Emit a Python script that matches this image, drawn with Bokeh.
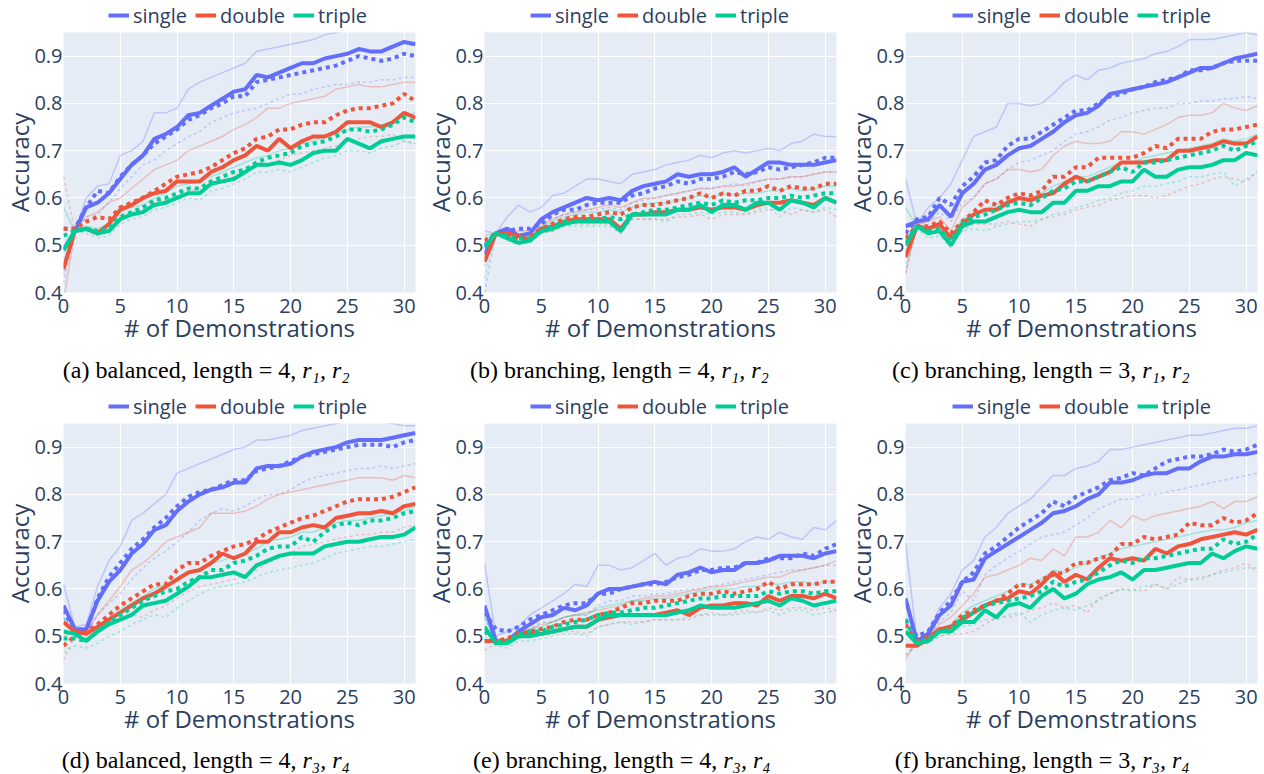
import math
from bokeh.plotting import figure
from bokeh.layouts import column, row
from bokeh.models import Legend, LegendItem, Label, FixedTicker, NumeralTickFormatter, Range1d
from bokeh.embed import file_html
from bokeh.resources import INLINE

X = list(range(32))
SERIES = ["single", "double", "triple"]
COLORS = ["#636EFA", "#EF553B", "#00CC96"]
X_TICKS = [0, 5, 10, 15, 20, 25, 30]
Y_TICKS = [0.4, 0.5, 0.6, 0.7, 0.8, 0.9]
Y_TITLE = "Accuracy"
X_TITLE = "# of Demonstrations"
CAPTIONS = ["(a) balanced, length = 4,", "(b) branching, length = 4,", "(c) branching, length = 3,",
            "(d) balanced, length = 4,", "(e) branching, length = 4,", "(f) branching, length = 3,"]
CAPTION_MATH = ["r\u2081, r\u2082", "r\u2081, r\u2082", "r\u2081, r\u2082",
                "r\u2083, r\u2084", "r\u2083, r\u2084", "r\u2083, r\u2084"]

# ---- panel (a)
A_S = [0.49,0.53,0.58,0.59,0.61,0.64,0.67,0.69,0.725,0.735,0.75,0.775,0.78,0.795,0.81,0.825,0.83,0.86,0.855,0.865,0.875,0.885,0.885,0.895,0.90,0.905,0.915,0.91,0.91,0.92,0.93,0.925]
A_S_DOT = [0.535,0.535,0.58,0.615,0.61,0.645,0.67,0.69,0.715,0.73,0.745,0.765,0.775,0.79,0.80,0.815,0.815,0.845,0.85,0.855,0.86,0.865,0.87,0.875,0.88,0.89,0.90,0.895,0.89,0.895,0.905,0.90]
A_S_HI = [0.44,0.53,0.60,0.625,0.63,0.69,0.70,0.72,0.78,0.78,0.79,0.83,0.845,0.855,0.865,0.875,0.885,0.91,0.915,0.92,0.925,0.93,0.935,0.945,0.95,0.955,0.96,0.96,0.96,0.96,0.96,0.96]
A_S_LO = [0.42,0.53,0.56,0.565,0.59,0.62,0.645,0.67,0.68,0.70,0.715,0.73,0.74,0.76,0.77,0.78,0.785,0.79,0.80,0.81,0.82,0.82,0.83,0.835,0.84,0.84,0.845,0.845,0.85,0.85,0.855,0.855]
A_D = [0.45,0.53,0.535,0.525,0.545,0.575,0.585,0.60,0.61,0.615,0.635,0.635,0.635,0.655,0.665,0.68,0.69,0.71,0.70,0.725,0.705,0.72,0.73,0.73,0.74,0.76,0.76,0.76,0.75,0.76,0.78,0.77]
A_D_DOT = [0.535,0.535,0.55,0.56,0.555,0.58,0.59,0.60,0.615,0.63,0.645,0.65,0.655,0.665,0.68,0.695,0.705,0.725,0.73,0.745,0.745,0.755,0.76,0.76,0.775,0.785,0.79,0.79,0.795,0.80,0.82,0.805]
A_D_HI = [0.38,0.53,0.56,0.57,0.59,0.60,0.62,0.64,0.66,0.67,0.68,0.70,0.71,0.72,0.73,0.745,0.755,0.77,0.79,0.79,0.80,0.805,0.81,0.815,0.83,0.835,0.84,0.835,0.835,0.84,0.845,0.845]
A_D_LO = [0.645,0.53,0.53,0.52,0.54,0.56,0.57,0.575,0.59,0.595,0.605,0.615,0.62,0.625,0.635,0.645,0.655,0.665,0.67,0.68,0.69,0.695,0.70,0.705,0.71,0.72,0.725,0.73,0.73,0.735,0.72,0.715]
A_T = [0.49,0.53,0.535,0.525,0.53,0.555,0.565,0.57,0.585,0.59,0.60,0.61,0.61,0.63,0.635,0.64,0.655,0.67,0.67,0.675,0.67,0.68,0.695,0.70,0.70,0.725,0.715,0.705,0.72,0.725,0.73,0.73]
A_T_DOT = [0.52,0.53,0.535,0.53,0.535,0.56,0.57,0.58,0.595,0.60,0.61,0.62,0.62,0.635,0.645,0.655,0.66,0.675,0.685,0.69,0.695,0.71,0.715,0.72,0.73,0.745,0.745,0.74,0.745,0.755,0.77,0.76]
A_T_HI = [0.58,0.53,0.54,0.535,0.545,0.57,0.58,0.585,0.60,0.61,0.625,0.63,0.635,0.645,0.655,0.665,0.675,0.685,0.69,0.70,0.705,0.715,0.72,0.73,0.735,0.745,0.75,0.75,0.755,0.76,0.775,0.78]
A_T_LO = [0.47,0.53,0.525,0.515,0.52,0.545,0.555,0.56,0.575,0.58,0.59,0.60,0.595,0.615,0.62,0.63,0.64,0.655,0.655,0.66,0.655,0.665,0.675,0.685,0.69,0.70,0.70,0.695,0.705,0.71,0.72,0.715]

# ---- panel (b)
B_S = [0.48,0.525,0.535,0.52,0.525,0.555,0.57,0.58,0.59,0.60,0.595,0.60,0.595,0.615,0.625,0.63,0.635,0.65,0.645,0.65,0.65,0.655,0.665,0.645,0.66,0.675,0.675,0.67,0.67,0.67,0.675,0.68]
B_S_DOT = [0.50,0.525,0.53,0.535,0.535,0.545,0.565,0.575,0.575,0.585,0.59,0.59,0.59,0.605,0.61,0.62,0.625,0.635,0.63,0.64,0.64,0.645,0.655,0.65,0.655,0.665,0.66,0.665,0.67,0.675,0.685,0.685]
B_S_HI = [0.53,0.525,0.56,0.585,0.57,0.58,0.605,0.61,0.625,0.64,0.64,0.635,0.63,0.65,0.655,0.66,0.67,0.675,0.68,0.69,0.685,0.695,0.70,0.695,0.70,0.705,0.70,0.715,0.72,0.735,0.73,0.73]
B_S_LO = [0.40,0.525,0.53,0.52,0.52,0.54,0.555,0.565,0.57,0.575,0.575,0.58,0.575,0.59,0.595,0.60,0.605,0.61,0.615,0.62,0.62,0.625,0.63,0.625,0.635,0.64,0.64,0.645,0.645,0.65,0.655,0.655]
B_D = [0.465,0.525,0.525,0.52,0.51,0.535,0.54,0.55,0.555,0.555,0.555,0.555,0.535,0.565,0.565,0.57,0.57,0.575,0.575,0.58,0.575,0.58,0.58,0.575,0.585,0.59,0.59,0.595,0.59,0.585,0.60,0.59]
B_D_DOT = [0.51,0.525,0.52,0.515,0.52,0.535,0.545,0.555,0.56,0.56,0.565,0.57,0.565,0.58,0.585,0.585,0.59,0.595,0.60,0.61,0.60,0.61,0.605,0.615,0.615,0.625,0.615,0.625,0.62,0.62,0.63,0.63]
B_D_HI = [0.48,0.525,0.53,0.53,0.53,0.545,0.555,0.565,0.57,0.575,0.58,0.585,0.58,0.59,0.60,0.60,0.605,0.61,0.615,0.62,0.62,0.625,0.625,0.63,0.635,0.64,0.64,0.645,0.645,0.65,0.655,0.655]
B_D_LO = [0.455,0.525,0.515,0.51,0.505,0.525,0.53,0.54,0.545,0.545,0.545,0.545,0.525,0.555,0.555,0.555,0.555,0.56,0.56,0.565,0.555,0.565,0.565,0.565,0.57,0.575,0.575,0.565,0.575,0.57,0.575,0.56]
B_T = [0.495,0.525,0.515,0.505,0.51,0.53,0.535,0.545,0.55,0.55,0.55,0.55,0.53,0.565,0.565,0.565,0.565,0.575,0.575,0.585,0.57,0.585,0.585,0.575,0.59,0.59,0.575,0.595,0.59,0.58,0.60,0.59]
B_T_DOT = [0.50,0.525,0.52,0.515,0.515,0.53,0.54,0.55,0.55,0.555,0.555,0.56,0.555,0.565,0.57,0.575,0.575,0.58,0.585,0.59,0.585,0.595,0.59,0.595,0.595,0.60,0.60,0.605,0.60,0.605,0.61,0.61]
B_T_HI = [0.52,0.525,0.525,0.52,0.52,0.54,0.55,0.56,0.565,0.57,0.57,0.575,0.57,0.58,0.585,0.59,0.59,0.595,0.60,0.605,0.60,0.61,0.605,0.61,0.61,0.615,0.615,0.62,0.615,0.62,0.625,0.625]
B_T_LO = [0.43,0.525,0.51,0.50,0.505,0.525,0.53,0.54,0.54,0.54,0.54,0.54,0.525,0.555,0.555,0.555,0.55,0.565,0.565,0.57,0.565,0.57,0.57,0.565,0.575,0.58,0.56,0.58,0.575,0.57,0.58,0.575]

# ---- panel (c)
C_S = [0.54,0.55,0.555,0.585,0.56,0.61,0.63,0.66,0.67,0.69,0.705,0.71,0.725,0.74,0.76,0.775,0.78,0.795,0.82,0.825,0.83,0.835,0.84,0.845,0.855,0.865,0.875,0.875,0.885,0.895,0.90,0.905]
C_S_DOT = [0.525,0.555,0.56,0.60,0.585,0.625,0.645,0.675,0.68,0.71,0.725,0.725,0.74,0.755,0.77,0.785,0.785,0.80,0.815,0.82,0.83,0.835,0.845,0.85,0.855,0.87,0.87,0.875,0.885,0.89,0.89,0.89]
C_S_HI = [0.64,0.545,0.58,0.60,0.63,0.68,0.73,0.74,0.75,0.80,0.80,0.795,0.80,0.82,0.845,0.86,0.85,0.87,0.875,0.885,0.89,0.895,0.905,0.91,0.92,0.935,0.935,0.935,0.94,0.945,0.95,0.945]
C_S_LO = [0.44,0.54,0.55,0.57,0.55,0.59,0.60,0.63,0.64,0.66,0.675,0.68,0.69,0.70,0.72,0.735,0.74,0.75,0.765,0.77,0.78,0.785,0.79,0.79,0.80,0.80,0.805,0.805,0.81,0.81,0.815,0.81]
C_D = [0.475,0.54,0.535,0.545,0.515,0.545,0.565,0.575,0.575,0.59,0.60,0.595,0.605,0.61,0.63,0.645,0.635,0.645,0.655,0.675,0.675,0.675,0.68,0.68,0.70,0.70,0.705,0.71,0.72,0.715,0.715,0.73]
C_D_DOT = [0.515,0.54,0.54,0.55,0.525,0.55,0.57,0.595,0.585,0.60,0.61,0.605,0.615,0.645,0.645,0.665,0.665,0.685,0.685,0.685,0.685,0.695,0.71,0.705,0.725,0.725,0.725,0.74,0.745,0.745,0.75,0.755]
C_D_HI = [0.44,0.545,0.55,0.56,0.53,0.58,0.60,0.63,0.64,0.66,0.66,0.655,0.66,0.69,0.71,0.72,0.715,0.715,0.72,0.74,0.74,0.735,0.745,0.755,0.77,0.775,0.775,0.78,0.80,0.79,0.785,0.795]
C_D_LO = [0.48,0.54,0.53,0.54,0.505,0.53,0.545,0.545,0.545,0.55,0.545,0.54,0.555,0.56,0.565,0.575,0.58,0.585,0.595,0.60,0.605,0.605,0.60,0.605,0.615,0.625,0.63,0.64,0.645,0.64,0.635,0.655]
C_T = [0.50,0.54,0.525,0.53,0.50,0.54,0.55,0.55,0.56,0.57,0.575,0.57,0.57,0.59,0.59,0.615,0.615,0.625,0.625,0.635,0.635,0.66,0.645,0.645,0.66,0.665,0.665,0.67,0.68,0.68,0.695,0.69]
C_T_DOT = [0.505,0.54,0.53,0.535,0.51,0.545,0.56,0.565,0.575,0.585,0.59,0.585,0.60,0.615,0.62,0.635,0.635,0.645,0.655,0.665,0.655,0.675,0.675,0.68,0.685,0.69,0.695,0.70,0.71,0.70,0.71,0.72]
C_T_HI = [0.58,0.54,0.535,0.54,0.52,0.555,0.565,0.575,0.585,0.595,0.60,0.60,0.61,0.625,0.635,0.645,0.645,0.655,0.665,0.675,0.675,0.685,0.69,0.695,0.70,0.705,0.71,0.715,0.725,0.72,0.725,0.735]
C_T_LO = [0.46,0.535,0.515,0.52,0.495,0.53,0.535,0.53,0.54,0.545,0.55,0.55,0.555,0.565,0.57,0.58,0.585,0.595,0.60,0.61,0.615,0.625,0.625,0.63,0.635,0.645,0.645,0.65,0.655,0.625,0.64,0.655]

# ---- panel (d)
D_S = [0.565,0.515,0.515,0.575,0.615,0.64,0.675,0.695,0.725,0.735,0.765,0.785,0.80,0.81,0.815,0.825,0.825,0.855,0.86,0.86,0.865,0.88,0.89,0.895,0.90,0.91,0.915,0.915,0.915,0.92,0.925,0.93]
D_S_DOT = [0.555,0.51,0.51,0.58,0.625,0.655,0.685,0.705,0.73,0.75,0.775,0.795,0.805,0.81,0.82,0.83,0.83,0.85,0.855,0.86,0.87,0.88,0.885,0.89,0.895,0.90,0.905,0.905,0.905,0.90,0.91,0.915]
D_S_HI = [0.61,0.52,0.525,0.605,0.66,0.69,0.745,0.76,0.78,0.80,0.845,0.855,0.865,0.875,0.885,0.895,0.90,0.915,0.915,0.92,0.925,0.935,0.94,0.945,0.95,0.955,0.955,0.955,0.955,0.95,0.945,0.945]
D_S_LO = [0.54,0.505,0.505,0.545,0.57,0.59,0.62,0.645,0.665,0.68,0.70,0.72,0.745,0.76,0.77,0.765,0.775,0.79,0.80,0.80,0.81,0.825,0.835,0.84,0.845,0.85,0.855,0.855,0.86,0.855,0.86,0.865]
D_D = [0.53,0.51,0.505,0.52,0.535,0.55,0.565,0.58,0.59,0.605,0.62,0.635,0.64,0.655,0.675,0.665,0.675,0.70,0.70,0.72,0.72,0.73,0.735,0.73,0.75,0.755,0.76,0.76,0.765,0.76,0.775,0.78]
D_D_DOT = [0.48,0.50,0.51,0.525,0.545,0.565,0.58,0.595,0.61,0.61,0.64,0.655,0.655,0.67,0.68,0.69,0.695,0.705,0.72,0.73,0.74,0.75,0.755,0.765,0.775,0.785,0.79,0.79,0.79,0.795,0.805,0.815]
D_D_HI = [0.50,0.51,0.51,0.545,0.575,0.605,0.64,0.655,0.675,0.70,0.71,0.72,0.73,0.76,0.76,0.76,0.765,0.775,0.79,0.80,0.805,0.81,0.815,0.82,0.825,0.83,0.835,0.835,0.835,0.83,0.84,0.835]
D_D_LO = [0.45,0.50,0.50,0.51,0.525,0.535,0.545,0.54,0.555,0.565,0.58,0.595,0.605,0.61,0.615,0.62,0.63,0.64,0.655,0.665,0.675,0.69,0.695,0.70,0.705,0.71,0.715,0.715,0.72,0.72,0.73,0.735]
D_T = [0.51,0.505,0.49,0.51,0.525,0.535,0.545,0.565,0.57,0.575,0.59,0.605,0.625,0.625,0.63,0.635,0.625,0.65,0.66,0.67,0.675,0.675,0.675,0.69,0.695,0.70,0.70,0.705,0.71,0.71,0.715,0.73]
D_T_DOT = [0.495,0.495,0.49,0.51,0.53,0.545,0.56,0.575,0.585,0.595,0.60,0.615,0.625,0.64,0.64,0.655,0.66,0.67,0.685,0.69,0.69,0.71,0.70,0.72,0.735,0.74,0.735,0.745,0.745,0.75,0.76,0.765]
D_T_HI = [0.54,0.50,0.495,0.52,0.54,0.555,0.57,0.585,0.60,0.61,0.62,0.63,0.64,0.655,0.66,0.67,0.675,0.685,0.70,0.705,0.71,0.72,0.72,0.73,0.74,0.745,0.745,0.75,0.755,0.76,0.765,0.775]
D_T_LO = [0.465,0.48,0.475,0.485,0.50,0.51,0.525,0.535,0.545,0.54,0.56,0.575,0.59,0.60,0.605,0.61,0.615,0.625,0.635,0.64,0.645,0.65,0.655,0.665,0.675,0.68,0.685,0.69,0.69,0.695,0.70,0.705]

# ---- panel (e)
E_S = [0.565,0.49,0.49,0.51,0.525,0.54,0.545,0.56,0.555,0.565,0.59,0.60,0.60,0.605,0.61,0.615,0.61,0.63,0.635,0.645,0.635,0.64,0.64,0.655,0.655,0.66,0.67,0.67,0.67,0.665,0.675,0.68]
E_S_DOT = [0.55,0.515,0.51,0.52,0.535,0.545,0.555,0.565,0.57,0.57,0.59,0.59,0.60,0.605,0.61,0.61,0.615,0.625,0.63,0.64,0.64,0.645,0.645,0.655,0.655,0.665,0.665,0.665,0.675,0.67,0.685,0.695]
E_S_HI = [0.655,0.50,0.51,0.52,0.545,0.56,0.575,0.59,0.61,0.605,0.65,0.65,0.64,0.645,0.66,0.675,0.65,0.665,0.67,0.685,0.68,0.68,0.685,0.70,0.71,0.705,0.72,0.71,0.705,0.73,0.725,0.745]
E_S_LO = [0.54,0.49,0.49,0.50,0.515,0.53,0.53,0.54,0.545,0.545,0.565,0.575,0.575,0.585,0.585,0.59,0.59,0.595,0.60,0.60,0.605,0.61,0.615,0.62,0.625,0.63,0.635,0.64,0.64,0.645,0.65,0.65]
E_D = [0.49,0.49,0.49,0.505,0.505,0.505,0.51,0.515,0.52,0.52,0.535,0.54,0.545,0.545,0.545,0.545,0.55,0.555,0.545,0.56,0.565,0.565,0.57,0.57,0.565,0.585,0.575,0.585,0.585,0.58,0.59,0.58]
E_D_DOT = [0.49,0.49,0.495,0.505,0.51,0.515,0.52,0.53,0.535,0.535,0.545,0.55,0.56,0.57,0.57,0.575,0.575,0.575,0.585,0.59,0.59,0.595,0.59,0.595,0.60,0.615,0.60,0.61,0.61,0.61,0.615,0.615]
E_D_HI = [0.485,0.49,0.495,0.51,0.515,0.525,0.53,0.54,0.545,0.55,0.555,0.56,0.565,0.575,0.58,0.585,0.585,0.59,0.595,0.60,0.605,0.605,0.61,0.615,0.62,0.625,0.625,0.635,0.64,0.645,0.65,0.66]
E_D_LO = [0.47,0.485,0.485,0.495,0.50,0.50,0.505,0.51,0.51,0.505,0.52,0.525,0.53,0.53,0.53,0.535,0.535,0.535,0.535,0.545,0.55,0.545,0.55,0.555,0.55,0.56,0.555,0.56,0.56,0.555,0.56,0.555]
E_T = [0.52,0.485,0.485,0.50,0.50,0.505,0.51,0.515,0.52,0.52,0.535,0.545,0.545,0.545,0.545,0.545,0.545,0.55,0.555,0.565,0.56,0.56,0.56,0.565,0.57,0.575,0.565,0.58,0.575,0.565,0.57,0.575]
E_T_DOT = [0.51,0.49,0.49,0.505,0.51,0.51,0.52,0.525,0.53,0.535,0.545,0.55,0.55,0.555,0.56,0.56,0.565,0.57,0.575,0.58,0.58,0.585,0.585,0.585,0.585,0.595,0.59,0.595,0.595,0.59,0.595,0.595]
E_T_HI = [0.54,0.49,0.49,0.505,0.515,0.52,0.53,0.54,0.545,0.545,0.56,0.565,0.57,0.575,0.575,0.58,0.58,0.585,0.59,0.595,0.60,0.60,0.60,0.605,0.605,0.61,0.61,0.615,0.615,0.61,0.615,0.615]
E_T_LO = [0.50,0.48,0.475,0.49,0.49,0.495,0.50,0.505,0.505,0.50,0.52,0.525,0.53,0.525,0.53,0.535,0.535,0.535,0.54,0.545,0.545,0.545,0.545,0.55,0.55,0.555,0.545,0.555,0.555,0.545,0.55,0.555]

# ---- panel (f)
F_S = [0.58,0.49,0.505,0.545,0.565,0.615,0.62,0.665,0.68,0.695,0.71,0.725,0.74,0.76,0.765,0.775,0.79,0.80,0.825,0.825,0.83,0.84,0.845,0.845,0.855,0.855,0.87,0.88,0.88,0.885,0.885,0.89]
F_S_DOT = [0.535,0.50,0.51,0.55,0.575,0.615,0.635,0.675,0.69,0.71,0.73,0.745,0.76,0.785,0.775,0.795,0.805,0.815,0.83,0.835,0.845,0.84,0.855,0.87,0.875,0.88,0.88,0.885,0.895,0.89,0.895,0.905]
F_S_HI = [0.70,0.49,0.51,0.56,0.59,0.64,0.66,0.71,0.73,0.76,0.775,0.79,0.815,0.84,0.84,0.855,0.86,0.87,0.895,0.895,0.90,0.905,0.91,0.915,0.92,0.925,0.925,0.93,0.935,0.94,0.94,0.945]
F_S_LO = [0.54,0.49,0.50,0.53,0.55,0.595,0.575,0.63,0.65,0.665,0.68,0.695,0.71,0.715,0.72,0.735,0.75,0.77,0.78,0.79,0.79,0.80,0.80,0.805,0.81,0.815,0.82,0.825,0.83,0.835,0.84,0.845]
F_D = [0.48,0.48,0.495,0.515,0.52,0.535,0.55,0.565,0.575,0.58,0.595,0.59,0.61,0.635,0.615,0.63,0.62,0.645,0.665,0.66,0.665,0.66,0.685,0.675,0.69,0.695,0.705,0.71,0.715,0.72,0.715,0.725]
F_D_DOT = [0.525,0.485,0.50,0.51,0.52,0.545,0.555,0.565,0.575,0.59,0.61,0.605,0.62,0.63,0.635,0.655,0.655,0.665,0.67,0.695,0.695,0.71,0.705,0.71,0.715,0.74,0.735,0.735,0.75,0.74,0.745,0.76]
F_D_HI = [0.45,0.49,0.50,0.525,0.54,0.565,0.59,0.625,0.63,0.64,0.65,0.665,0.66,0.685,0.67,0.71,0.71,0.72,0.745,0.73,0.755,0.745,0.755,0.76,0.765,0.77,0.775,0.785,0.77,0.785,0.785,0.795]
F_D_LO = [0.46,0.48,0.485,0.50,0.505,0.505,0.51,0.525,0.54,0.54,0.545,0.555,0.56,0.57,0.56,0.565,0.55,0.58,0.59,0.60,0.60,0.595,0.61,0.60,0.625,0.62,0.625,0.63,0.64,0.645,0.655,0.635]
F_T = [0.51,0.485,0.49,0.51,0.51,0.53,0.53,0.555,0.54,0.565,0.57,0.56,0.585,0.60,0.58,0.59,0.61,0.62,0.625,0.635,0.62,0.64,0.64,0.645,0.65,0.655,0.655,0.675,0.665,0.68,0.69,0.685]
F_T_DOT = [0.535,0.485,0.495,0.51,0.515,0.54,0.55,0.565,0.57,0.575,0.58,0.585,0.595,0.615,0.605,0.615,0.62,0.635,0.65,0.66,0.655,0.665,0.665,0.67,0.675,0.68,0.685,0.685,0.705,0.695,0.70,0.715]
F_T_HI = [0.52,0.49,0.495,0.515,0.525,0.55,0.565,0.575,0.585,0.595,0.61,0.61,0.62,0.64,0.635,0.645,0.655,0.665,0.675,0.685,0.69,0.695,0.70,0.705,0.71,0.715,0.72,0.725,0.725,0.73,0.74,0.745]
F_T_LO = [0.46,0.485,0.485,0.50,0.505,0.52,0.525,0.535,0.535,0.545,0.55,0.53,0.545,0.555,0.56,0.555,0.565,0.575,0.59,0.60,0.595,0.605,0.61,0.60,0.61,0.62,0.62,0.63,0.635,0.64,0.645,0.645]

PANEL_DATA = [
    [(A_S, A_S_DOT, A_S_HI, A_S_LO), (A_D, A_D_DOT, A_D_HI, A_D_LO), (A_T, A_T_DOT, A_T_HI, A_T_LO)],
    [(B_S, B_S_DOT, B_S_HI, B_S_LO), (B_D, B_D_DOT, B_D_HI, B_D_LO), (B_T, B_T_DOT, B_T_HI, B_T_LO)],
    [(C_S, C_S_DOT, C_S_HI, C_S_LO), (C_D, C_D_DOT, C_D_HI, C_D_LO), (C_T, C_T_DOT, C_T_HI, C_T_LO)],
    [(D_S, D_S_DOT, D_S_HI, D_S_LO), (D_D, D_D_DOT, D_D_HI, D_D_LO), (D_T, D_T_DOT, D_T_HI, D_T_LO)],
    [(E_S, E_S_DOT, E_S_HI, E_S_LO), (E_D, E_D_DOT, E_D_HI, E_D_LO), (E_T, E_T_DOT, E_T_HI, E_T_LO)],
    [(F_S, F_S_DOT, F_S_HI, F_S_LO), (F_D, F_D_DOT, F_D_HI, F_D_LO), (F_T, F_T_DOT, F_T_HI, F_T_LO)],
]

# ---- layout (pixels)
TOTAL_W = 1264
FRAME_W, FRAME_H = 353, 260
MAIN_W = [421, 421, 422]
MB_LEFT = 62
MB_BOTTOM = 56
TOP_H = [32, 33]
BOT_H = [42, 35]
LEG_X = [108, 530, 952]
LEG_Y = 3.5
CAP_Y = [20.4, 14.1]     # vertical middle of the caption, from strip bottom
MATH_X = [301.7, 721, 1141.7, 302, 722.7, 1141.7]
CAP_GAP = 6

FONT = "Open Sans"
TXT = "#2a3f5f"


def strip(w, h):
    s = figure(width=w, height=h, x_range=Range1d(0, w), y_range=Range1d(0, h),
               x_axis_type=None, y_axis_type=None, output_backend="svg",
               toolbar_location=None, min_border=0,
               background_fill_color="white", border_fill_color="white")
    s.outline_line_color = None
    return s


def make_main(i):
    c = i % 3
    p = figure(width=MAIN_W[c], height=FRAME_H + MB_BOTTOM,
               x_range=Range1d(0, 31), y_range=Range1d(0.4, 0.95),
               output_backend="svg", toolbar_location=None,
               min_border_left=MB_LEFT, min_border_right=MAIN_W[c] - MB_LEFT - FRAME_W,
               min_border_top=0, min_border_bottom=MB_BOTTOM,
               background_fill_color="#E5ECF6", border_fill_color="white")
    p.outline_line_color = None
    for ax in (p.xaxis[0], p.yaxis[0]):
        ax.axis_line_color = None
        ax.major_tick_line_color = None
        ax.minor_tick_line_color = None
        ax.major_tick_out = 0
        ax.major_tick_in = 0
        ax.major_label_text_font = FONT
        ax.major_label_text_font_size = "20px"
        ax.major_label_text_color = TXT
        ax.axis_label_text_font = FONT
        ax.axis_label_text_font_size = "24px"
        ax.axis_label_text_font_style = "normal"
        ax.axis_label_text_color = TXT
    p.xaxis.major_label_standoff = 6
    p.yaxis.major_label_standoff = 1
    p.yaxis.axis_label = Y_TITLE
    p.yaxis.axis_label_standoff = -5
    p.xaxis.axis_label = X_TITLE
    p.xaxis.axis_label_standoff = -5
    p.xaxis.ticker = FixedTicker(ticks=X_TICKS)
    p.yaxis.ticker = FixedTicker(ticks=Y_TICKS)
    p.yaxis.formatter = NumeralTickFormatter(format="0.0")
    p.xgrid.ticker = FixedTicker(ticks=X_TICKS)
    p.ygrid.ticker = FixedTicker(ticks=Y_TICKS)
    for g in (p.xgrid[0], p.ygrid[0]):
        g.grid_line_color = "white"
        g.grid_line_width = 1.2

    data = PANEL_DATA[i]
    for (solid, dot, hi, lo), col in zip(data, COLORS):
        p.line(X, hi, line_color=col, line_width=1.5, line_alpha=0.3)
        p.line(X, lo, line_color=col, line_width=1.5, line_alpha=0.3, line_dash="3 3")
    for (solid, dot, hi, lo), col in zip(data, COLORS):
        p.line(X, dot, line_color=col, line_width=4, line_dash="4 4")
        p.line(X, solid, line_color=col, line_width=4)
    return p


def make_top(r):
    s = strip(TOTAL_W, TOP_H[r])
    for c in range(3):
        items = []
        for col, name in zip(COLORS, SERIES):
            # legend swatch only: a renderer with no visible point
            rr = s.line(x=[math.nan], y=[math.nan], line_color=col, line_width=4)
            items.append(LegendItem(label=name, renderers=[rr]))
        leg = Legend(items=items, location=(LEG_X[c], LEG_Y), orientation="horizontal",
                     glyph_width=21, glyph_height=20, label_standoff=4, spacing=8,
                     padding=0, margin=0, border_line_color=None, background_fill_alpha=0,
                     label_text_font=FONT, label_text_font_size="20px", label_text_color=TXT)
        s.add_layout(leg, "center")
    return s


def make_bottom(r):
    s = strip(TOTAL_W, BOT_H[r])
    for c in range(3):
        i = 3 * r + c
        s.add_layout(Label(x=MATH_X[i] - CAP_GAP, y=CAP_Y[r], text=CAPTIONS[i], text_align="right",
                           text_baseline="middle", text_font="Liberation Serif",
                           text_font_size="24px", text_color="black"))
        s.add_layout(Label(x=MATH_X[i], y=CAP_Y[r], text=CAPTION_MATH[i], text_align="left",
                           text_baseline="middle", text_font="Liberation Serif",
                           text_font_style="italic", text_font_size="24px", text_color="black"))
    return s


bands = []
for r in range(2):
    mains = [make_main(3 * r + c) for c in range(3)]
    bands.append(column(make_top(r), row(*mains), make_bottom(r)))

layout = column(*bands)
open("out.html", "w").write(file_html(layout, INLINE))
